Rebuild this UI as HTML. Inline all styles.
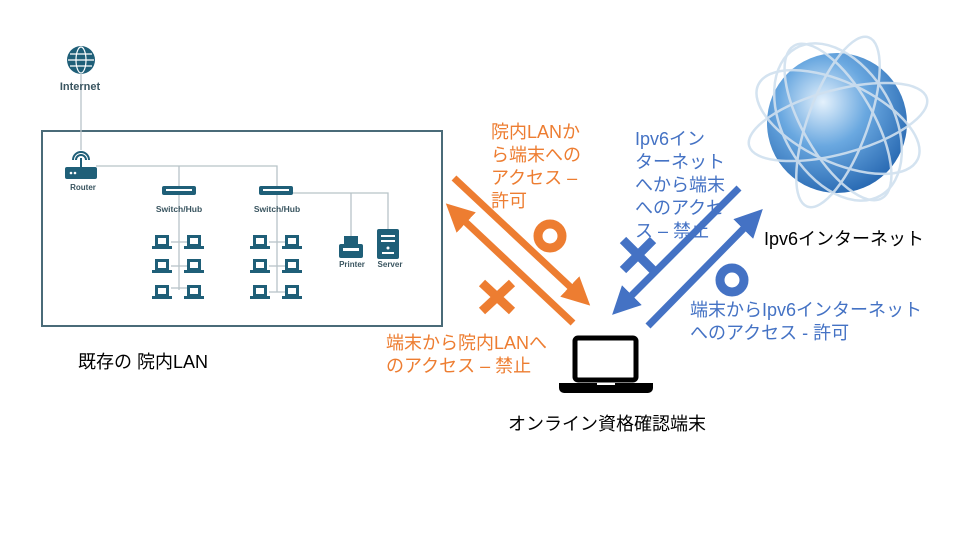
<!DOCTYPE html>
<html><head><meta charset="utf-8"><style>
body{margin:0;width:960px;height:540px;background:#fff;overflow:hidden;position:relative;font-family:"Liberation Sans","Noto Sans CJK JP",sans-serif}
.t{position:absolute;font-size:18px;line-height:23px;white-space:nowrap}
.o{color:#ed7d31}.b{color:#4472c4}
</style></head><body>
<svg width="960" height="540" style="position:absolute;left:0;top:0">
<defs>
<radialGradient id="g" cx="0.4" cy="0.35" r="0.7">
<stop offset="0" stop-color="#e4f1fc"/><stop offset="0.45" stop-color="#6aa8e0"/><stop offset="1" stop-color="#2566b0"/></radialGradient>
<marker id="ao" markerWidth="4" markerHeight="4" refX="2" refY="2" orient="auto" markerUnits="strokeWidth"><path d="M0,0L4,2L0,4z" fill="#ed7d31"/></marker>
<marker id="ab" markerWidth="4" markerHeight="4" refX="2" refY="2" orient="auto" markerUnits="strokeWidth"><path d="M0,0L4,2L0,4z" fill="#4472c4"/></marker>
</defs>
<rect x="42" y="131" width="400" height="195" fill="none" stroke="#4a6b78" stroke-width="2"/>
<g stroke="#b8c4c8" stroke-width="1.3" fill="none">
<line x1="81" y1="70" x2="81" y2="150"/>
<path d="M96 166H277V190"/><line x1="179" y1="166" x2="179" y2="290"/>
<line x1="277" y1="190" x2="277" y2="292"/>
<path d="M290 193H388V230"/><line x1="351" y1="193" x2="351" y2="236"/>
<line x1="171" y1="242" x2="187" y2="242"/><line x1="171" y1="266" x2="187" y2="266"/><line x1="171" y1="288" x2="187" y2="288"/>
<line x1="269" y1="242" x2="285" y2="242"/><line x1="269" y1="266" x2="285" y2="266"/><line x1="269" y1="292" x2="285" y2="292"/>
</g>
<g fill="#1f5f78">
<circle cx="81" cy="60" r="14"/>
<rect x="65" y="167" width="32" height="12" rx="2"/>
<rect x="162" y="186" width="34" height="9" rx="2"/>
<rect x="259" y="186" width="34" height="9" rx="2"/>
<rect x="339" y="244" width="24" height="14" rx="2"/><rect x="344" y="236" width="14" height="8"/>
<rect x="377" y="229" width="22" height="30" rx="2"/>
</g>
<g stroke="#fff" stroke-width="1.2" fill="none"><ellipse cx="81" cy="60" rx="5" ry="13"/><line x1="68" y1="60" x2="94" y2="60"/><line x1="70" y1="54" x2="92" y2="54"/><line x1="70" y1="66" x2="92" y2="66"/></g>
<path d="M73 160a8 8 0 0 1 16 0M76 160a5 5 0 0 1 10 0" stroke="#1f5f78" stroke-width="2" fill="none"/><line x1="81" y1="158" x2="81" y2="167" stroke="#1f5f78" stroke-width="2"/>
<g fill="#fff"><rect x="166" y="189" width="26" height="2"/><rect x="263" y="189" width="26" height="2"/><circle cx="71" cy="173" r="1.3"/><circle cx="75" cy="173" r="1.3"/>
<rect x="343" y="248" width="16" height="3"/><rect x="381" y="235" width="14" height="2"/><rect x="381" y="240" width="14" height="2"/><circle cx="388" cy="248" r="1.5"/><rect x="382" y="252" width="12" height="2"/></g>
<g fill="#1f5f78">
<path d="M155 235h14v11h-14zM152 246h20v3h-20z"/><path d="M187 235h14v11h-14zM184 246h20v3h-20z"/>
<path d="M155 259h14v11h-14zM152 270h20v3h-20z"/><path d="M187 259h14v11h-14zM184 270h20v3h-20z"/>
<path d="M155 285h14v11h-14zM152 296h20v3h-20z"/><path d="M187 285h14v11h-14zM184 296h20v3h-20z"/>
<path d="M253 235h14v11h-14zM250 246h20v3h-20z"/><path d="M285 235h14v11h-14zM282 246h20v3h-20z"/>
<path d="M253 259h14v11h-14zM250 270h20v3h-20z"/><path d="M285 259h14v11h-14zM282 270h20v3h-20z"/>
<path d="M253 285h14v11h-14zM250 296h20v3h-20z"/><path d="M285 285h14v11h-14zM282 296h20v3h-20z"/>
</g>
<g fill="#fff"><rect x="158" y="238" width="8" height="6"/><rect x="190" y="238" width="8" height="6"/><rect x="158" y="262" width="8" height="6"/><rect x="190" y="262" width="8" height="6"/><rect x="158" y="288" width="8" height="6"/><rect x="190" y="288" width="8" height="6"/><rect x="256" y="238" width="8" height="6"/><rect x="288" y="238" width="8" height="6"/><rect x="256" y="262" width="8" height="6"/><rect x="288" y="262" width="8" height="6"/><rect x="256" y="288" width="8" height="6"/><rect x="288" y="288" width="8" height="6"/></g>
<g font-family="Liberation Sans,sans-serif" font-weight="bold" fill="#3a5560" text-anchor="middle">
<text x="80" y="90" font-size="11">Internet</text>
<text x="83" y="190" font-size="8">Router</text>
<text x="179" y="212" font-size="8.5">Switch/Hub</text>
<text x="277" y="212" font-size="8.5">Switch/Hub</text>
<text x="352" y="267" font-size="8">Printer</text>
<text x="390" y="267" font-size="8">Server</text>
</g>
<circle cx="837" cy="123" r="70" fill="url(#g)"/>
<g fill="none" stroke="#d0e0ef" stroke-width="2.5" opacity="0.9">
<ellipse cx="838" cy="122" rx="92" ry="32" transform="rotate(-15 838 122)"/>
<ellipse cx="838" cy="122" rx="88" ry="40" transform="rotate(25 838 122)"/>
<ellipse cx="838" cy="122" rx="30" ry="90" transform="rotate(20 838 122)"/>
<ellipse cx="838" cy="122" rx="35" ry="88" transform="rotate(-30 838 122)"/>
<ellipse cx="838" cy="122" rx="85" ry="55" transform="rotate(60 838 122)"/>
</g>
<g stroke-width="7" fill="none">
<line x1="454" y1="178" x2="580" y2="296" stroke="#ed7d31" marker-end="url(#ao)"/>
<line x1="573" y1="323" x2="456" y2="213" stroke="#ed7d31" marker-end="url(#ao)"/>
<line x1="739" y1="188" x2="622" y2="305" stroke="#4472c4" marker-end="url(#ab)"/>
<line x1="648" y1="326" x2="753" y2="219" stroke="#4472c4" marker-end="url(#ab)"/>
</g>
<circle cx="550" cy="236" r="12" fill="none" stroke="#ed7d31" stroke-width="9"/>
<circle cx="732" cy="280" r="12" fill="none" stroke="#4472c4" stroke-width="9"/>
<g stroke-width="9"><path d="M482 283L512 311M512 283L482 311" stroke="#ed7d31"/><path d="M623 240L653 270M653 240L623 270" stroke="#4472c4"/></g>
<rect x="575" y="338" width="61" height="42" rx="3" fill="none" stroke="#000" stroke-width="5"/>
<path d="M559 383h94v5a5 5 0 0 1-5 5h-84a5 5 0 0 1-5-5z" fill="#000"/>
<rect x="597" y="383" width="18" height="2" fill="#fff"/>
</svg>
<div class="t o" style="left:491px;top:121px">院内LANか<br>ら端末への<br>アクセス –<br>許可</div>
<div class="t b" style="left:635px;top:128px">Ipv6イン<br>ターネット<br>へから端末<br>へのアクセ<br>ス – 禁止</div>
<div class="t" style="left:764px;top:228px">Ipv6インターネット</div>
<div class="t b" style="left:690px;top:299px">端末からIpv6インターネット<br>へのアクセス - 許可</div>
<div class="t o" style="left:386px;top:332px">端末から院内LANへ<br>のアクセス – 禁止</div>
<div class="t" style="left:78px;top:351px">既存の 院内LAN</div>
<div class="t" style="left:508px;top:413px">オンライン資格確認端末</div>
</body></html>
